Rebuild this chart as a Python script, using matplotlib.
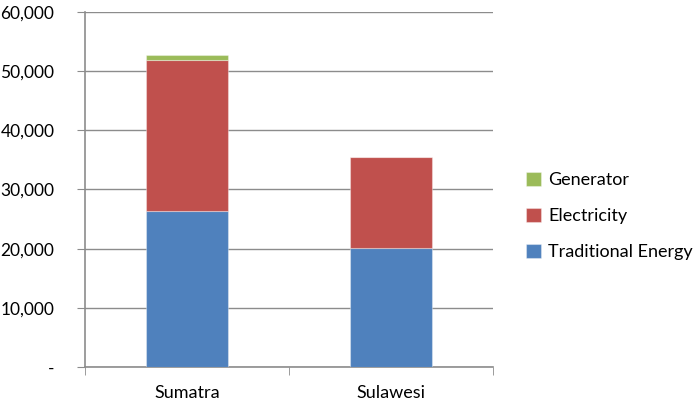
import matplotlib.pyplot as plt
import numpy as np

# Energy use by island, stacked by source
islands = ["Sumatra", "Sulawesi"]
traditional = [26400, 20060]
electricity = [25500, 15380]
generator = [830, 0]

series = [
    ("Traditional Energy", traditional, "#4F81BD"),
    ("Electricity", electricity, "#C0504D"),
    ("Generator", generator, "#9BBB59"),
]

plt.rcParams['font.family'] = ['Lato', 'DejaVu Sans']

fig = plt.figure(figsize=(6.93, 4.09), dpi=100)
ax = fig.add_axes([85 / 693, 42 / 409, 408 / 693, 355 / 409])

x = np.arange(len(islands))
bottom = np.zeros(len(islands))
handles = []
for name, vals, color in series:
    b = ax.bar(x, vals, width=0.4, bottom=bottom, color=color, label=name,
               edgecolor=(1, 1, 1, 0.35), linewidth=0.8, zorder=3)
    handles.append(b)
    bottom += np.array(vals)

ax.set_xlim(-0.5, 1.5)
ax.set_ylim(0, 60000)
ax.set_yticks(range(0, 60001, 10000))
ax.set_yticklabels(["-"] + [f"{v:,}" for v in range(10000, 60001, 10000)])
ax.set_xticks(x)
ax.set_xticklabels(islands)
ax.set_xticks([-0.5, 0.5, 1.5], minor=True)

ax.grid(axis="y", color="#8c8c8c", linewidth=1, zorder=0)
for side in ["top", "right"]:
    ax.spines[side].set_visible(False)
for side in ["left", "bottom"]:
    ax.spines[side].set_color("#8c8c8c")
    ax.spines[side].set_linewidth(1.2)

ax.tick_params(axis="y", length=6, color="#8c8c8c", labelsize=12.5, pad=16)
ax.tick_params(axis="x", which="major", length=0, labelsize=13, pad=13)
ax.tick_params(axis="x", which="minor", length=6, color="#8c8c8c")

fig.legend(handles[::-1], [h.get_label() for h in handles[::-1]],
           loc="center left", bbox_to_anchor=(510 / 693, 0.472),
           frameon=False, fontsize=13, handlelength=0.8, handleheight=0.8,
           handletextpad=0.4, labelspacing=1.1)

fig.savefig("out.png", dpi=100)
